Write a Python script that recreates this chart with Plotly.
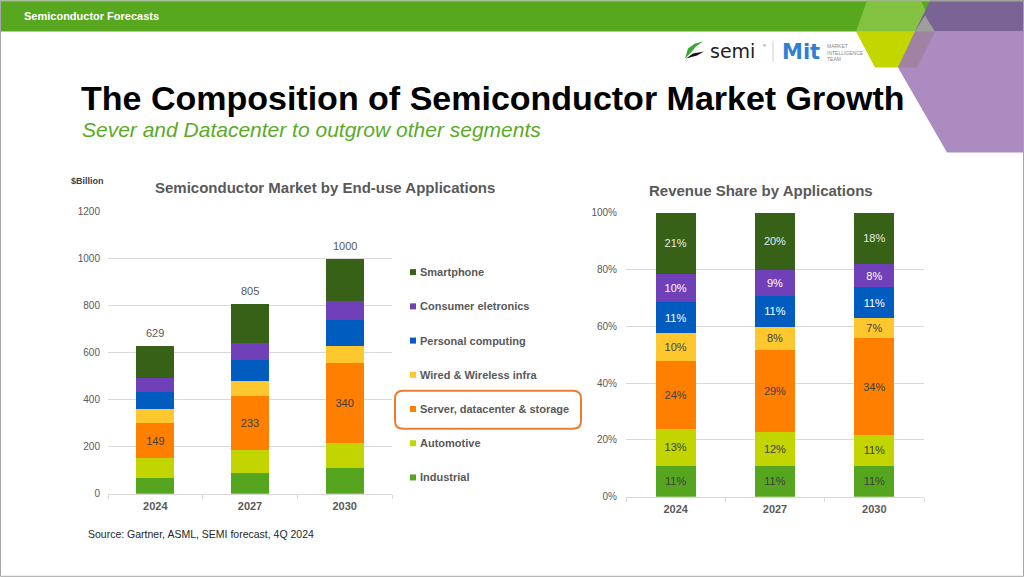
import plotly.graph_objects as go

W, H = 1024, 577

# ---- data ----
years = ["2024", "2027", "2030"]
segments = [
    "Industrial",
    "Automotive",
    "Server, datacenter & storage",
    "Wired & Wireless infra",
    "Personal computing",
    "Consumer eletronics",
    "Smartphone",
]
industrial = [69, 87, 108]
automotive = [82, 97, 110]
server = [149, 233, 340]
wired = [62, 64, 70]
personal = [69, 89, 110]
consumer = [63, 72, 80]
smartphone = [135, 163, 182]
totals = [629, 805, 1000]

left_ticks = [0, 200, 400, 600, 800, 1000, 1200]
right_ticks = [0, 20, 40, 60, 80, 100]

series = [industrial, automotive, server, wired, personal, consumer, smartphone]
colors = ["#55a51f", "#c2d500", "#ff7f00", "#ffc72e", "#005cbf", "#7040b8", "#366116"]
share_text_colors = ["#404040", "#404040", "#404040", "#404040", "#ffffff", "#ffffff", "#e8e8e8"]

GRAY = "#595959"
GRID = "#d9d9d9"
FONT = "Liberation Sans, Arial, sans-serif"

# the photographed page comes out slightly squeezed vertically; undo that
Y_SCALE, Y_OFF = 0.9787, 5.49


def px(x):
    return x / W


def py(y):
    return 1 - ((y - Y_OFF) / Y_SCALE) / H


def poly(points):
    return "M " + " L ".join(f"{px(x)},{py(y)}" for x, y in points) + " Z"


fig = go.Figure()

# left: stacked $Billion bars
for name, vals, col in zip(segments, series, colors):
    is_server = name.startswith("Server")
    fig.add_trace(go.Bar(
        x=years, y=vals, name=name, marker=dict(color=col, line=dict(width=0)),
        text=[str(v) for v in vals] if is_server else None,
        textposition="inside" if is_server else "none",
        insidetextanchor="middle",
        textfont=dict(color="#404040", size=11, family=FONT),
        xaxis="x", yaxis="y", hoverinfo="x+y+name",
    ))

# right: revenue share
for name, vals, col, tcol in zip(segments, series, colors, share_text_colors):
    shares = [100 * v / t for v, t in zip(vals, totals)]
    fig.add_trace(go.Bar(
        x=years, y=shares, name=name, marker=dict(color=col, line=dict(width=0)),
        text=[f"{s:.0f}%" for s in shares], textposition="inside",
        insidetextanchor="middle", textangle=0,
        textfont=dict(color=tcol, size=11, family=FONT),
        xaxis="x2", yaxis="y2", hoverinfo="x+y+name",
    ))

# totals above the left bars (category index positions)
for i, tot in enumerate(totals):
    fig.add_annotation(x=i, y=tot, xref="x", yref="y", text=str(tot),
                       showarrow=False, yanchor="bottom", yshift=5,
                       font=dict(size=11, color=GRAY, family=FONT))

axis_x = dict(
    type="category", range=[-0.5, 2.5], showline=True, linecolor=GRID, linewidth=1,
    ticks="outside", tickson="boundaries", ticklen=4, tickcolor=GRID,
    ticklabelstandoff=2,
    showgrid=False, tickfont=dict(size=11, color=GRAY, family=FONT, weight="bold"),
    fixedrange=True,
)

fig.update_layout(
    autosize=True,
    margin=dict(l=0, r=0, t=0, b=0),
    paper_bgcolor="white", plot_bgcolor="white",
    barmode="stack", bargap=0.6,
    font=dict(family=FONT, color=GRAY),
    xaxis=dict(axis_x, domain=[px(108), px(392)], anchor="y"),
    yaxis=dict(domain=[py(493), py(211)], range=[0, 1200], tickvals=left_ticks,
               showgrid=True, gridcolor=GRID, zeroline=False, showline=False,
               ticklabelstandoff=7,
               tickfont=dict(size=10, color=GRAY), anchor="x", fixedrange=True),
    xaxis2=dict(axis_x, domain=[px(626), px(924)], anchor="y2"),
    yaxis2=dict(domain=[py(496), py(212)], range=[0, 100], tickvals=right_ticks,
                ticktext=[f"{t}%" for t in right_ticks],
                showgrid=True, gridcolor=GRID, zeroline=False,
                showline=False, ticklabelstandoff=8,
                tickfont=dict(size=10, color=GRAY), anchor="x2",
                fixedrange=True),
    showlegend=False,
)

shapes = []
annos = []

# slide header and decorations
shapes.append(dict(type="rect", xref="paper", yref="paper", x0=0, x1=1, y0=py(31), y1=py(0),
                   fillcolor="#57a81f", line=dict(width=0), layer="below"))
deco = [
    ([(856, 31), (867, 0), (921, 0), (935, 31)], "#84c341"),
    ([(856, 31), (935, 31), (917, 67), (875, 67)], "#c4d600"),
    ([(930, 0), (1024, 0), (1024, 31), (915, 31)], "#7a6496"),
    ([(915, 31), (1024, 31), (1024, 152), (947, 152), (898, 67)], "#ac8bc1"),
    ([(925, 15), (935, 31), (915, 31)], "#9e9e9e"),
    ([(915, 31), (935, 31), (917, 67), (898, 67)], "#a083a3"),
]
for pts, col in deco:
    shapes.append(dict(type="path", xref="paper", yref="paper", path=poly(pts),
                       fillcolor=col, line=dict(width=0), layer="below"))

annos.append(dict(x=px(22), y=py(15), text="<b>Semiconductor Forecasts</b>",
                  xanchor="left", yanchor="middle", font=dict(size=11, color="white")))

# logos
shapes.append(dict(type="path", xref="paper", yref="paper",
                   path=poly([(685, 58), (688, 48), (695, 43), (703, 41), (696, 46), (691, 52)]),
                   fillcolor="#3aa935", line=dict(width=0)))
shapes.append(dict(type="path", xref="paper", yref="paper",
                   path=poly([(686, 58), (693, 53), (704, 51), (697, 55)]),
                   fillcolor="#111111", line=dict(width=0)))
annos.append(dict(x=px(708), y=py(50), text="semi", xanchor="left", yanchor="middle",
                  font=dict(size=19, color="#222222", family="DejaVu Sans")))
annos.append(dict(x=px(761), y=py(45), text="®", xanchor="left", yanchor="middle",
                  font=dict(size=4, color="#222222")))
shapes.append(dict(type="line", xref="paper", yref="paper", x0=px(773), x1=px(773),
                   y0=py(40), y1=py(61), line=dict(color="#cccccc", width=1)))
annos.append(dict(x=px(780), y=py(51), text="<b>Mit</b>", xanchor="left", yanchor="middle",
                  font=dict(size=21, color="#2f7fd6", family="DejaVu Sans")))
annos.append(dict(x=px(825), y=py(52), text="MARKET<br>INTELLIGENCE<br>TEAM",
                  xanchor="left", yanchor="middle", align="left",
                  font=dict(size=5, color="#8a8a8a")))

# titles
annos.append(dict(x=px(79), y=py(97), text="<b>The Composition of Semiconductor Market Growth</b>",
                  xanchor="left", yanchor="middle", font=dict(size=34, color="black")))
annos.append(dict(x=px(80), y=py(129), text="<i>Sever and Datacenter to outgrow other segments</i>",
                  xanchor="left", yanchor="middle", font=dict(size=21, color="#5aab26")))

annos.append(dict(x=px(325), y=py(187), text="<b>Semiconductor Market by End-use Applications</b>",
                  xanchor="center", yanchor="middle", font=dict(size=15, color=GRAY)))
annos.append(dict(x=px(761), y=py(190), text="<b>Revenue Share by Applications</b>",
                  xanchor="center", yanchor="middle", font=dict(size=15, color=GRAY)))
annos.append(dict(x=px(69), y=py(180), text="<b>$Billion</b>", xanchor="left", yanchor="middle",
                  font=dict(size=9, color="#404040")))
annos.append(dict(x=px(86), y=py(533), text="Source: Gartner, ASML, SEMI forecast, 4Q 2024",
                  xanchor="left", yanchor="middle", font=dict(size=10.5, color="#262626")))

# legend (Smartphone on top)
for i, (name, col) in enumerate(zip(segments[::-1], colors[::-1])):
    yc = 271.5 + i * 34.2
    shapes.append(dict(type="rect", xref="paper", yref="paper",
                       x0=px(410), x1=px(416), y0=py(yc + 3), y1=py(yc - 3),
                       fillcolor=col, line=dict(width=0)))
    annos.append(dict(x=px(418), y=py(yc), text=f"<b>{name}</b>", xanchor="left",
                      yanchor="middle", font=dict(size=11, color=GRAY)))

# orange highlight box around the server item
x0, x1, y0, y1, r = 395, 581, 390, 428, 8
box = (f"M {px(x0 + r)},{py(y0)} L {px(x1 - r)},{py(y0)} "
       f"Q {px(x1)},{py(y0)} {px(x1)},{py(y0 + r)} L {px(x1)},{py(y1 - r)} "
       f"Q {px(x1)},{py(y1)} {px(x1 - r)},{py(y1)} L {px(x0 + r)},{py(y1)} "
       f"Q {px(x0)},{py(y1)} {px(x0)},{py(y1 - r)} L {px(x0)},{py(y0 + r)} "
       f"Q {px(x0)},{py(y0)} {px(x0 + r)},{py(y0)} Z")
shapes.append(dict(type="path", xref="paper", yref="paper", path=box,
                   line=dict(color="#ed7d31", width=2)))

# slide border
shapes.append(dict(type="rect", xref="paper", yref="paper", x0=px(0.5), x1=px(1023.5),
                   y0=py(575.5), y1=py(0.5), line=dict(color="#a6a6a6", width=1)))

for a in annos:
    a.setdefault("xref", "paper")
    a.setdefault("yref", "paper")
    a.setdefault("showarrow", False)
    fig.add_annotation(**a)
fig.update_layout(shapes=shapes)

# fill the browser window exactly, no page margins or scrollbars
fig.write_html(
    "out.html",
    config={"displayModeBar": False},
    default_width="100vw",
    default_height="100vh",
    post_script=(
        "document.documentElement.style.margin='0';"
        "document.documentElement.style.overflow='hidden';"
        "document.body.style.margin='0';"
        "document.body.style.overflow='hidden';"
        "Plotly.Plots.resize(document.getElementById('{plot_id}'));"
    ),
)
